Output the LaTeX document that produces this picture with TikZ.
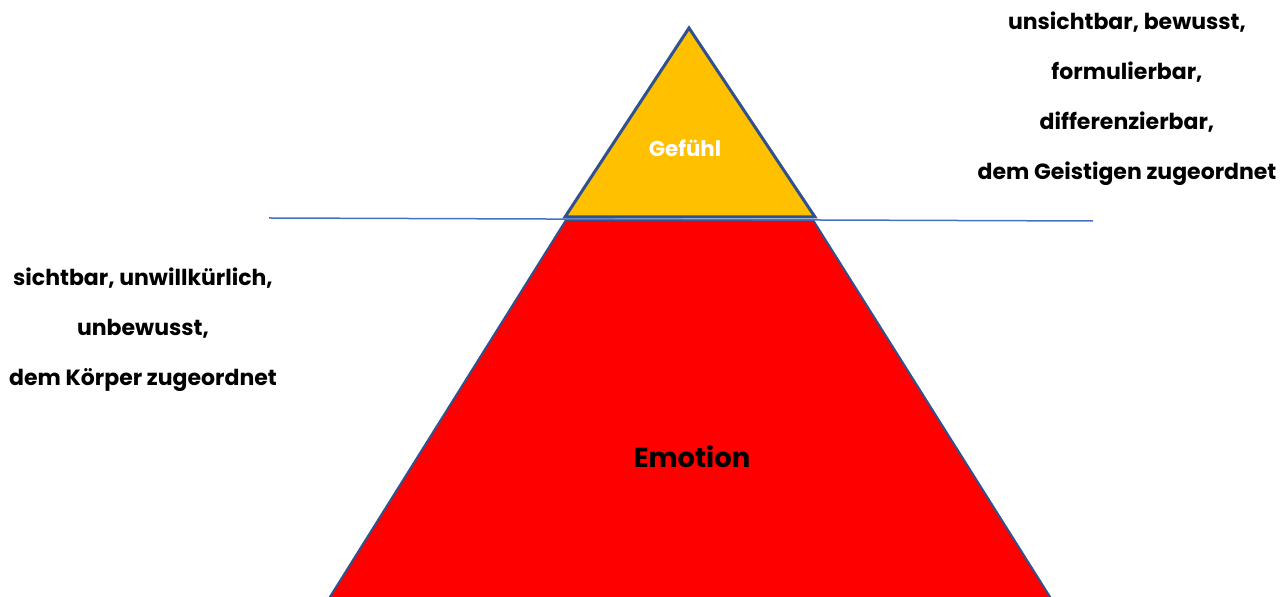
\documentclass[tikz,border=0pt]{standalone}
\usepackage{fontspec}
\setmainfont{Poppins}
\definecolor{topfill}{HTML}{FFC000}
\definecolor{basefill}{HTML}{FF0000}
\definecolor{shapeedge}{HTML}{2F528F}
\definecolor{waterline}{HTML}{4472C4}
\begin{document}
\begin{tikzpicture}[
  x=0.5pt, y=-0.5pt,
  note/.style={align=center, font=\fontsize{11}{25}\selectfont\bfseries, inner sep=0pt},
  tip/.style={draw=shapeedge, line width=1.5pt, fill=topfill, line join=miter},
  base/.style={draw=shapeedge, line width=1pt, fill=basefill},
  lvl/.style={draw=waterline, line width=0.75pt},
]
\useasboundingbox (0,0) rectangle (1286,597);
% ---- corners of the two parts
\coordinate (apex) at (689,28);
\coordinate (tip_l) at (565,217);
\coordinate (tip_r) at (815,217);
\coordinate (base_tl) at (566,220);
\coordinate (base_tr) at (813,220);
\coordinate (base_bl) at (328,600);
\coordinate (base_br) at (1052,600);
\coordinate (lvl_l) at (269,218);
\coordinate (lvl_r) at (1093,221);
% ---- emotion below, feeling on top
\draw[base] (base_tl) -- (base_tr) -- (base_br) -- (base_bl) -- cycle;
\draw[tip] (apex) -- (tip_r) -- (tip_l) -- cycle;
\draw[lvl] (lvl_l) -- (lvl_r);
\node[font=\fontsize{10.7}{13}\selectfont\bfseries, text=white] (gefuehl) at (685,148) {Gefühl};
\node[font=\fontsize{13.7}{16}\selectfont\bfseries] (emotion) at (692,457) {Emotion};
% ---- descriptions
\node[note, anchor=north] (oben) at (1127,11) {unsichtbar, bewusst,\\formulierbar,\\differenzierbar,\\dem Geistigen zugeordnet};
\node[note, anchor=north] (unten) at (143,267) {sichtbar, unwillkürlich,\\unbewusst,\\dem Körper zugeordnet};
\end{tikzpicture}
\end{document}
